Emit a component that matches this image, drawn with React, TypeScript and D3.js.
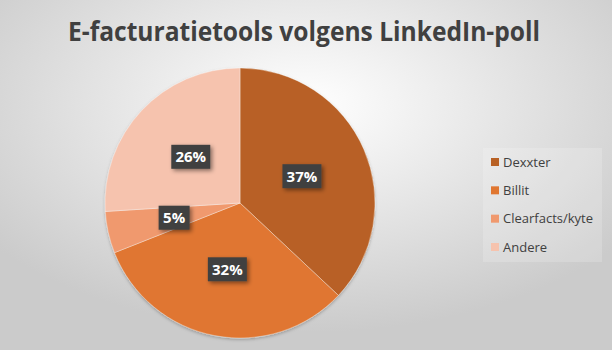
import React from "react";
import * as d3 from "d3";

const categories = ["Dexxter", "Billit", "Clearfacts/kyte", "Andere"];
const values = [37, 32, 5, 26];
const colors = ["#B86125", "#E07630", "#F0996E", "#F6C3AE"];
const title = "E-facturatietools volgens LinkedIn-poll";

const W = 612;
const H = 350;
const cx = 240;
const cy = 203;
const R = 135;

export default function App() {
  const pie = d3.pie<number>().sort(null).value((d) => d)(values);
  const arc = d3.arc<d3.PieArcDatum<number>>().innerRadius(0).outerRadius(R);
  const total = d3.sum(values);
  const fmt = d3.format(".0%");
  const font = "'Open Sans', 'Liberation Sans', sans-serif";
  const legendY = d3.scalePoint<string>().domain(categories).range([162, 247]);

  return (
    <svg width={W} height={H} style={{ position: "absolute", left: 0, top: 0 }}>
      <defs>
        <radialGradient id="bg" cx="50%" cy="30%" r="65%">
          <stop offset="0%" stopColor="#ffffff" />
          <stop offset="100%" stopColor="#cbcbcb" />
        </radialGradient>
        <filter id="shadow" x="-30%" y="-30%" width="160%" height="160%">
          <feDropShadow dx="2" dy="2" stdDeviation="2" floodColor="#000" floodOpacity="0.45" />
        </filter>
        <filter id="pieShadow" x="-10%" y="-10%" width="120%" height="120%">
          <feDropShadow dx="0" dy="1.5" stdDeviation="1.5" floodColor="#000" floodOpacity="0.25" />
        </filter>
      </defs>
      <rect x={0} y={0} width={W} height={H} fill="url(#bg)" />
      <text
        x={304}
        y={41}
        textAnchor="middle"
        fontFamily={font}
        fontWeight="bold"
        fontSize={26}
        fill="#404040"
        textLength={472}
        lengthAdjust="spacingAndGlyphs"
      >
        {title}
      </text>
      <g transform={`translate(${cx},${cy})`} filter="url(#pieShadow)">
        {pie.map((p, i) => (
          <path key={i} d={arc(p) || ""} fill={colors[i]} stroke="rgba(255,255,255,0.35)" strokeWidth={1} />
        ))}
      </g>
      <g transform={`translate(${cx},${cy})`}>
        {pie.map((p, i) => {
          const [x, y] = arc.centroid(p);
          const label = fmt(p.data / total);
          const w = label.length === 2 ? 31 : 39;
          const h = 24;
          return (
            <g key={i} transform={`translate(${x},${y})`}>
              <rect x={-w / 2} y={-h / 2} width={w} height={h} fill="#404040" filter="url(#shadow)" />
              <text
                x={0}
                y={5.5}
                textAnchor="middle"
                fontFamily={font}
                fontWeight="bold"
                fontSize={15}
                fill="#ffffff"
              >
                {label}
              </text>
            </g>
          );
        })}
      </g>
      <rect x={483} y={148} width={119} height={114} fill="rgba(255,255,255,0.18)" />
      {categories.map((c, i) => {
        const y = legendY(c) as number;
        return (
          <g key={c}>
            <rect x={491} y={y - 4} width={8} height={8} fill={colors[i]} />
            <text x={503} y={y + 4.5} fontFamily={font} fontSize={13} fill="#404040">
              {c}
            </text>
          </g>
        );
      })}
    </svg>
  );
}
